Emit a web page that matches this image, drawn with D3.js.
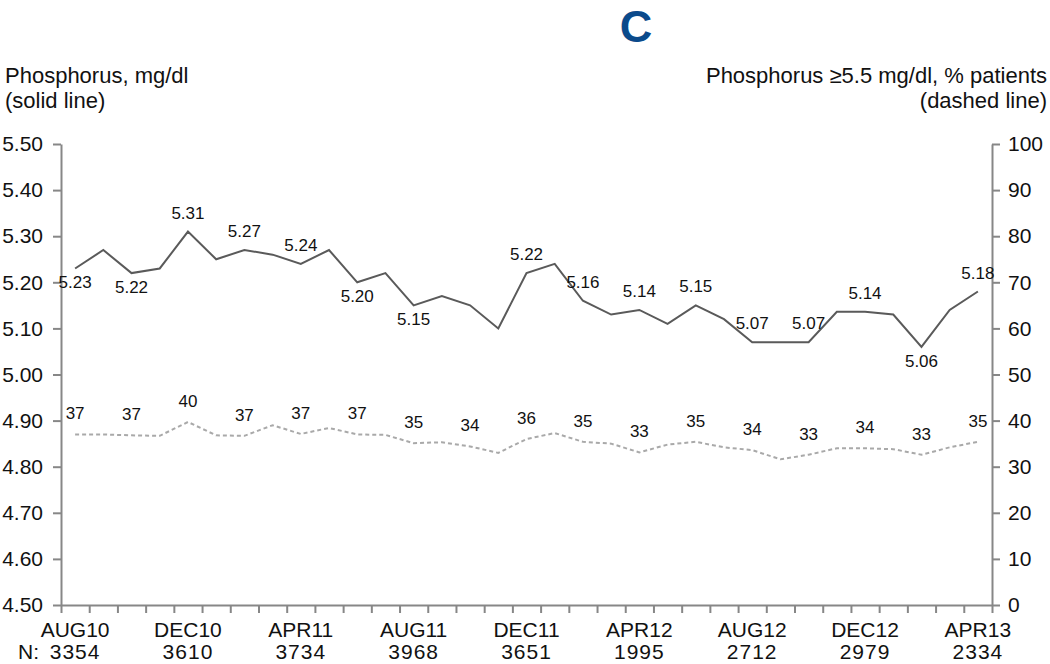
<!DOCTYPE html>
<html>
<head>
<meta charset="utf-8">
<script src="https://cdn.jsdelivr.net/npm/d3@7"></script>
<style>
  body { margin: 0; background: #fff; }
  svg { display: block; font-family: "Liberation Sans", Arial, sans-serif; }
</style>
</head>
<body>
<div id="chart"></div>
<script>
const months = ['AUG10', 'SEP10', 'OCT10', 'NOV10', 'DEC10', 'JAN11', 'FEB11', 'MAR11', 'APR11', 'MAY11',
  'JUN11', 'JUL11', 'AUG11', 'SEP11', 'OCT11', 'NOV11', 'DEC11', 'JAN12', 'FEB12', 'MAR12',
  'APR12', 'MAY12', 'JUN12', 'JUL12', 'AUG12', 'SEP12', 'OCT12', 'NOV12', 'DEC12', 'JAN13',
  'FEB13', 'MAR13', 'APR13']
// mean phosphorus, mg/dl (solid)
const phosMean = [5.23, 5.27, 5.22, 5.23, 5.31, 5.25, 5.27, 5.26, 5.24, 5.27,
  5.20, 5.22, 5.15, 5.17, 5.15, 5.10, 5.22, 5.24, 5.16, 5.13,
  5.14, 5.11, 5.15, 5.12, 5.07, 5.07, 5.07, 5.136, 5.136, 5.13,
  5.06, 5.14, 5.18]
// % patients with phosphorus >= 5.5 (dashed)
const phosHigh = [37.0, 37.0, 36.8, 36.7, 39.7, 36.8, 36.7, 39.0, 37.1, 38.4,
  37.0, 36.9, 35.1, 35.3, 34.4, 33.0, 36.0, 37.3, 35.4, 35.0,
  33.1, 34.8, 35.4, 34.2, 33.6, 31.6, 32.6, 34.0, 34.0, 33.8,
  32.6, 34.2, 35.4]
const tickMonths = ['AUG10', 'DEC10', 'APR11', 'AUG11', 'DEC11', 'APR12', 'AUG12', 'DEC12', 'APR13']
const nPatients = [3354, 3610, 3734, 3968, 3651, 1995, 2712, 2979, 2334]
const leftTicks = [4.5, 4.6, 4.7, 4.8, 4.9, 5.0, 5.1, 5.2, 5.3, 5.4, 5.5]
const rightTicks = [0, 10, 20, 30, 40, 50, 60, 70, 80, 90, 100]

const w = 1050, h = 664
const mLeft = 61, mRight = 992, mTop = 144, mBottom = 605
const axisColor = '#878787'

const svg = d3.select('#chart').append('svg')
  .attr('width', w)
  .attr('height', h)

const x = d3.scaleBand().domain(months).range([mLeft, mRight])
const cx = d => x(d) + x.bandwidth() / 2
const yL = d3.scaleLinear().domain([4.5, 5.5]).range([mBottom, mTop])
const yR = d3.scaleLinear().domain([0, 100]).range([mBottom, mTop])

// title
svg.append('text')
  .attr('x', 636).attr('y', 42)
  .attr('text-anchor', 'middle')
  .attr('font-size', '45px').attr('font-weight', 'bold')
  .attr('fill', '#0b4a8b')
  .text('C')

// axis titles
const titleL = svg.append('text').attr('font-size', '22px').attr('fill', '#111')
titleL.append('tspan').attr('x', 5).attr('y', 83).text('Phosphorus, mg/dl')
titleL.append('tspan').attr('x', 5).attr('y', 108).text('(solid line)')
const titleR = svg.append('text').attr('font-size', '22px').attr('fill', '#111').attr('text-anchor', 'end')
titleR.append('tspan').attr('x', 1047).attr('y', 83).text('Phosphorus \u22655.5 mg/dl, % patients')
titleR.append('tspan').attr('x', 1047).attr('y', 108).text('(dashed line)')

function styleAxis(g) {
  g.select('.domain').attr('stroke', axisColor).attr('stroke-width', 2)
  g.selectAll('.tick line').attr('stroke', axisColor).attr('stroke-width', 2)
  g.selectAll('.tick text').attr('fill', '#111').attr('font-size', '21px')
    .attr('font-family', '"Liberation Sans", Arial, sans-serif')
}

// left axis
svg.append('g')
  .attr('transform', `translate(${mLeft},0)`)
  .call(d3.axisLeft(yL).tickValues(leftTicks).tickFormat(d3.format('.2f')).tickSize(8).tickSizeOuter(0).tickPadding(10))
  .call(styleAxis)

// right axis
svg.append('g')
  .attr('transform', `translate(${mRight},0)`)
  .call(d3.axisRight(yR).tickValues(rightTicks).tickSize(8).tickSizeOuter(0).tickPadding(8))
  .call(styleAxis)

// bottom axis: tick marks at month boundaries
const xEdges = d3.scaleLinear().domain([0, months.length]).range([mLeft, mRight])
svg.append('g')
  .attr('transform', `translate(0,${mBottom})`)
  .call(d3.axisBottom(xEdges).tickValues(d3.range(months.length + 1)).tickFormat('').tickSize(8).tickSizeOuter(0))
  .call(styleAxis)

// month labels + N
const xl = svg.append('g').attr('font-size', '21px').attr('fill', '#111').attr('text-anchor', 'middle')
xl.selectAll('.mlab')
  .data(tickMonths)
  .enter()
  .append('text')
  .attr('class', 'mlab')
  .attr('x', d => cx(d))
  .attr('y', 637)
  .text(d => d)
xl.selectAll('.nlab')
  .data(nPatients)
  .enter()
  .append('text')
  .attr('class', 'nlab')
  .attr('x', (d, i) => cx(tickMonths[i]))
  .attr('y', 659)
  .attr('letter-spacing', '1px')
  .text(d => d)
xl.append('text')
  .attr('x', 18).attr('y', 659)
  .attr('text-anchor', 'start')
  .text('N:')

// dashed line
const lineR = d3.line().x((d, i) => cx(months[i])).y(d => yR(d))
svg.append('path')
  .datum(phosHigh)
  .attr('d', lineR)
  .attr('fill', 'none')
  .attr('stroke', '#a9a9a9')
  .attr('stroke-width', 2)
  .attr('stroke-dasharray', '4,3')

// solid line
const lineL = d3.line().x((d, i) => cx(months[i])).y(d => yL(d))
svg.append('path')
  .datum(phosMean)
  .attr('d', lineL)
  .attr('fill', 'none')
  .attr('stroke', '#5a5a5a')
  .attr('stroke-width', 2)

// value labels, every second month
const below = new Set([0, 2, 10, 12, 30])
const skip = new Set([14])
const lab = svg.append('g').attr('font-size', '17px').attr('fill', '#111').attr('text-anchor', 'middle')
lab.selectAll('.sl')
  .data(phosMean.map((v, i) => ({ v, i })).filter(d => d.i % 2 === 0 && !skip.has(d.i)))
  .enter()
  .append('text')
  .attr('class', 'sl')
  .attr('x', d => cx(months[d.i]))
  .attr('y', d => below.has(d.i) ? yL(d.v) + 20 : yL(d.v) - 13)
  .text(d => d.v.toFixed(2))
lab.selectAll('.dl')
  .data(phosHigh.map((v, i) => ({ v, i })).filter(d => d.i % 2 === 0))
  .enter()
  .append('text')
  .attr('class', 'dl')
  .attr('x', d => cx(months[d.i]))
  .attr('y', d => yR(d.v) - 15)
  .text(d => Math.round(d.v))
</script>
</body>
</html>
